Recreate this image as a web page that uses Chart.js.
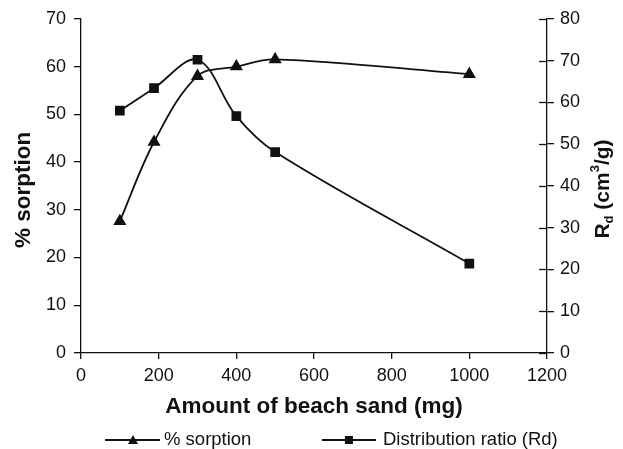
<!DOCTYPE html>
<html>
<head>
<meta charset="utf-8">
<script src="https://cdn.jsdelivr.net/npm/chart.js@4.4.1/dist/chart.umd.min.js"></script>
<style>
  html, body { margin: 0; padding: 0; background: #fff; }
  #wrap { width: 623px; height: 449px; position: relative; }
</style>
</head>
<body>
<div id="wrap"><canvas id="c" width="623" height="449"></canvas></div>
<script>
// ---- data ----
const sandAmount = [100, 188, 300, 400, 500, 1000];           // mg
const sorptionPct = [27.6, 44.2, 58.0, 60.0, 61.5, 58.4];     // % sorption
const distRatio  = [58.0, 63.4, 70.2, 56.7, 48.1, 21.4];      // Rd (cm3/g)
const xTicks = [0, 200, 400, 600, 800, 1000, 1200];
const leftTicks = [0, 10, 20, 30, 40, 50, 60, 70];
const rightTicks = [0, 10, 20, 30, 40, 50, 60, 70, 80];
const seriesNames = ['% sorption', 'Distribution ratio (Rd)'];

const FONT = "'Liberation Sans', Arial, Helvetica, sans-serif";
const INK = '#111';
const TICK_SIZE = 18;

const toPts = (xs, ys) => xs.map((x, i) => ({ x: x, y: ys[i] }));

const decor = {
  id: 'decor',
  afterDraw(chart) {
    const ctx = chart.ctx;
    const yR = chart.scales.yR;
    const area = chart.chartArea;
    ctx.save();
    // inner tick marks of right axis
    ctx.strokeStyle = INK;
    ctx.lineWidth = 1.3;
    rightTicks.forEach(v => {
      const py = Math.round(yR.getPixelForValue(v)) + 0.5;
      ctx.beginPath();
      ctx.moveTo(area.right - 8, py);
      ctx.lineTo(area.right, py);
      ctx.stroke();
    });

    ctx.fillStyle = INK;
    // x title
    ctx.font = "bold 22.5px " + FONT;
    ctx.textAlign = 'center';
    ctx.textBaseline = 'middle';
    ctx.fillText('Amount of beach sand (mg)', (area.left + area.right) / 2, 407);

    // left title
    ctx.save();
    ctx.translate(24, 190);
    ctx.rotate(-Math.PI / 2);
    ctx.font = "bold 22.5px " + FONT;
    ctx.fillText('% sorption', 0, 0);
    ctx.restore();

    // right title: R_d (cm^3/g), reading bottom to top
    ctx.save();
    ctx.translate(603, 189);
    ctx.rotate(-Math.PI / 2);
    const big = "bold 21px " + FONT;
    const small = "bold 13px " + FONT;
    const parts = [
      { t: 'R', f: big, dy: 0 },
      { t: 'd', f: small, dy: 6 },
      { t: ' (cm', f: big, dy: 0 },
      { t: '3', f: small, dy: -8 },
      { t: '/g)', f: big, dy: 0 }
    ];
    let total = 0;
    parts.forEach(p => { ctx.font = p.f; p.w = ctx.measureText(p.t).width; total += p.w; });
    let cx = -total / 2;
    ctx.textAlign = 'left';
    parts.forEach(p => { ctx.font = p.f; ctx.fillText(p.t, cx, p.dy); cx += p.w; });
    ctx.restore();

    // legend
    const ly = 440;
    ctx.lineWidth = 1.8;
    ctx.strokeStyle = INK;
    ctx.beginPath(); ctx.moveTo(105, ly); ctx.lineTo(160, ly); ctx.stroke();
    ctx.beginPath(); ctx.moveTo(322, ly); ctx.lineTo(376, ly); ctx.stroke();
    // triangle
    ctx.beginPath();
    ctx.moveTo(133, ly - 5); ctx.lineTo(138, ly + 4); ctx.lineTo(128, ly + 4); ctx.closePath(); ctx.fill();
    // square
    ctx.fillRect(345, ly - 4, 8, 8);
    ctx.font = "18.5px " + FONT;
    ctx.textAlign = 'left';
    ctx.textBaseline = 'middle';
    ctx.fillText(seriesNames[0], 164, ly);
    ctx.fillText(seriesNames[1], 383, ly);
    ctx.restore();
  }
};

const plainTick = v => String(v);

new Chart(document.getElementById('c'), {
  type: 'line',
  data: {
    datasets: [
      {
        label: seriesNames[0],
        data: toPts(sandAmount, sorptionPct),
        yAxisID: 'yL',
        borderColor: INK, backgroundColor: INK,
        borderWidth: 1.8,
        pointStyle: 'triangle', pointRadius: 5.8,
        tension: 0.35, fill: false
      },
      {
        label: seriesNames[1],
        data: toPts(sandAmount, distRatio),
        yAxisID: 'yR',
        borderColor: INK, backgroundColor: INK,
        borderWidth: 1.8,
        pointStyle: 'rect', pointRadius: 5.6,
        tension: 0.35, fill: false
      }
    ]
  },
  options: {
    responsive: false,
    animation: false,
    devicePixelRatio: 1,
    layout: { padding: { top: 18, left: 0, right: 0, bottom: 0 } },
    plugins: { legend: { display: false }, tooltip: { enabled: false } },
    scales: {
      x: {
        type: 'linear', min: 0, max: 1200,
        afterBuildTicks: s => { s.ticks = xTicks.map(v => ({ value: v })); },
        afterFit: s => { s.height = 96; },
        grid: { drawOnChartArea: false, drawTicks: true, tickLength: 6, color: INK, lineWidth: 1.3 },
        border: { display: true, color: INK, width: 1.3 },
        ticks: { font: { family: FONT, size: TICK_SIZE }, color: INK, padding: 6, maxRotation: 0, callback: plainTick }
      },
      yL: {
        type: 'linear', position: 'left', min: 0, max: 70,
        afterBuildTicks: s => { s.ticks = leftTicks.map(v => ({ value: v })); },
        afterFit: s => { s.width = 81; },
        grid: { drawOnChartArea: false, drawTicks: true, tickLength: 7, color: INK, lineWidth: 1.3 },
        border: { display: true, color: INK, width: 1.3 },
        ticks: { font: { family: FONT, size: TICK_SIZE }, color: INK, padding: 8, callback: plainTick }
      },
      yR: {
        type: 'linear', position: 'right', min: 0, max: 80,
        afterBuildTicks: s => { s.ticks = rightTicks.map(v => ({ value: v })); },
        afterFit: s => { s.width = 76; },
        grid: { drawOnChartArea: false, drawTicks: true, tickLength: 7, color: INK, lineWidth: 1.3 },
        border: { display: true, color: INK, width: 1.3 },
        ticks: { font: { family: FONT, size: TICK_SIZE }, color: INK, padding: 6, callback: plainTick }
      }
    }
  },
  plugins: [decor]
});
</script>
</body>
</html>
